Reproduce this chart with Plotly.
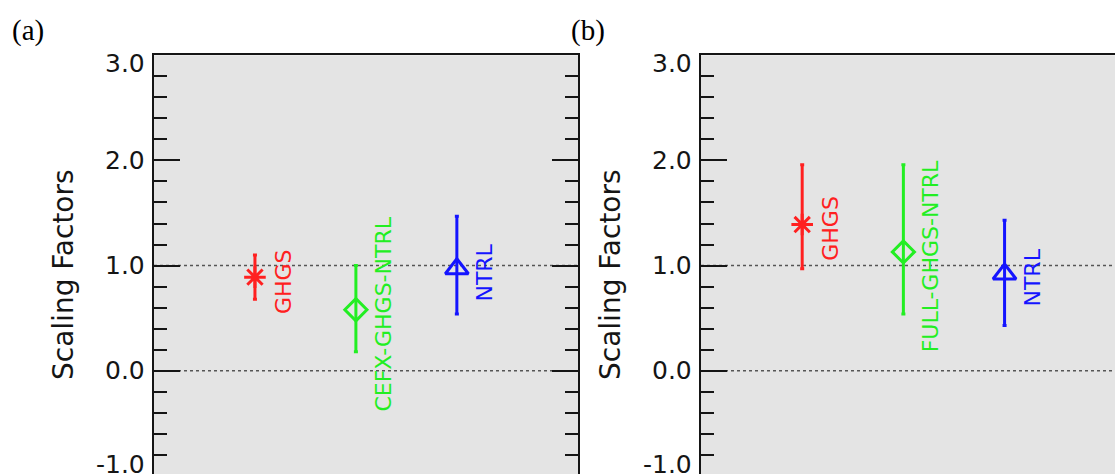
import plotly.graph_objects as go

# ---------------- data ----------------
categories_a = ["GHGS", "CEFX-GHGS-NTRL", "NTRL"]
best_a = [0.89, 0.58, 0.97]
low_a = [0.68, 0.18, 0.54]
high_a = [1.10, 1.00, 1.47]

categories_b = ["GHGS", "FULL-GHGS-NTRL", "NTRL"]
best_b = [1.39, 1.13, 0.92]
low_b = [0.97, 0.54, 0.43]
high_b = [1.96, 1.96, 1.43]

ref_lines = [0.0, 1.0]
tick_vals = [-1.0, 0.0, 1.0, 2.0, 3.0]
tick_text = ["-1.0", "0.0", "1.0", "2.0", "3.0"]
y_title = "Scaling Factors"
panel_tags = ["(a)", "(b)"]

# ---------------- styling ----------------
colors = ["#ff2020", "#22ee22", "#1414ff"]
symbols = ["asterisk-open", "diamond-open", "triangle-up-open"]
marker_sizes = [18, 17, 20]
W, H = 1115, 474
INK = "#151515"
BG = "#e4e4e4"
FONT = "DejaVu Sans"

# axis geometry (pixels)
y_top_px = 55.3
y_zero_px = 370.7
ppu = (y_zero_px - y_top_px) / 3.0
y_max = 3.0
y_min = -(H - y_zero_px) / ppu
y_dom_top = 1 - y_top_px / H
x_full_range = 4.2
pan_a = (154, 578)
pan_b = (701, 1126)


def val_to_paper(v):
    return (v - y_min) / (y_max - y_min) * y_dom_top


fig = go.Figure()

panels = [
    ("x", "y", categories_a, best_a, low_a, high_a),
    ("x2", "y2", categories_b, best_b, low_b, high_b),
]

annotations = []
shapes = []

for (xa, ya, cats, best, low, high) in panels:
    xpos = list(range(1, len(cats) + 1))
    for i, cat in enumerate(cats):
        fig.add_trace(go.Scatter(
            x=[xpos[i]], y=[best[i]], mode="markers", name=cat,
            xaxis=xa, yaxis=ya, showlegend=False, cliponaxis=False,
            marker=dict(symbol=symbols[i], size=marker_sizes[i], color=colors[i],
                        line=dict(width=3, color=colors[i])),
            error_y=dict(type="data", symmetric=False,
                         array=[high[i] - best[i]], arrayminus=[best[i] - low[i]],
                         color=colors[i], thickness=3, width=2),
        ))
        annotations.append(dict(
            x=xpos[i], y=best[i], xref=xa, yref=ya, text=cat, showarrow=False,
            textangle=-90, xshift=28, yshift=-4, xanchor="center", yanchor="middle",
            font=dict(family=FONT, size=22, color=colors[i]),
        ))
    for v in ref_lines:
        shapes.append(dict(type="line", xref=f"{xa} domain", yref=ya, x0=0, x1=1,
                           y0=v, y1=v, layer="below",
                           line=dict(color="#555555", width=1.5, dash="dot")))
    for v, t in zip(tick_vals, tick_text):
        ys = 0
        if v == max(tick_vals):
            ys = -8
        elif v == min(tick_vals):
            ys = 11
        annotations.append(dict(
            x=0, xref=f"{xa} domain", y=val_to_paper(v), yref="paper", text=t,
            showarrow=False, xanchor="right", yanchor="middle", xshift=-7, yshift=ys,
            font=dict(family=FONT, size=25, color=INK),
        ))

# axis titles and panel tags
for cx, tag, tx in [(63, panel_tags[0], 10), (610, panel_tags[1], 569)]:
    annotations.append(dict(
        x=cx / W, y=1 - 275 / H, xref="paper", yref="paper", text=y_title,
        showarrow=False, textangle=-90, xanchor="center", yanchor="middle",
        font=dict(family=FONT, size=28, color=INK),
    ))
    annotations.append(dict(
        x=tx / W, y=1 - 31 / H, xref="paper", yref="paper", text=tag,
        showarrow=False, xanchor="left", yanchor="middle",
        font=dict(family="Liberation Serif", size=29, color="#000000"),
    ))

xcommon = dict(side="top", showline=True, linecolor=INK, linewidth=2, ticks="",
               showticklabels=False, showgrid=False, zeroline=False, fixedrange=True)
ycommon = dict(range=[y_min, y_max], domain=[0, y_dom_top], showline=True,
               linecolor=INK, linewidth=2, ticks="inside", ticklen=26, tickwidth=2,
               tickcolor=INK, tick0=0, dtick=1, showticklabels=False, showgrid=False,
               zeroline=False,
               minor=dict(ticks="inside", ticklen=13, tickwidth=2, tickcolor=INK,
                          tick0=0, dtick=0.2, showgrid=False))

fig.update_layout(
    width=W, height=H,
    margin=dict(l=0, r=0, t=0, b=0),
    paper_bgcolor="white", plot_bgcolor=BG,
    xaxis=dict(domain=[pan_a[0] / W, pan_a[1] / W], range=[0, x_full_range],
               anchor="y", **xcommon),
    xaxis2=dict(domain=[pan_b[0] / W, 1.0],
                range=[0, x_full_range * (W - pan_b[0]) / (pan_b[1] - pan_b[0])],
                anchor="y2", **xcommon),
    yaxis=dict(anchor="x", mirror="ticks", **ycommon),
    yaxis2=dict(anchor="x2", mirror=False, **ycommon),
    yaxis3=dict(range=[y_min, y_max], domain=[0, y_dom_top], overlaying="y2",
                anchor="x2", side="right", showline=False, ticks="inside",
                ticklen=15, tickwidth=2, tickcolor=INK, tick0=0, dtick=1,
                showticklabels=False, showgrid=False, zeroline=False,
                minor=dict(ticks="inside", ticklen=2, tickwidth=2, tickcolor=INK,
                           tick0=0, dtick=0.2, showgrid=False)),
    annotations=annotations,
    shapes=shapes,
)

fig.write_html("out.html")
